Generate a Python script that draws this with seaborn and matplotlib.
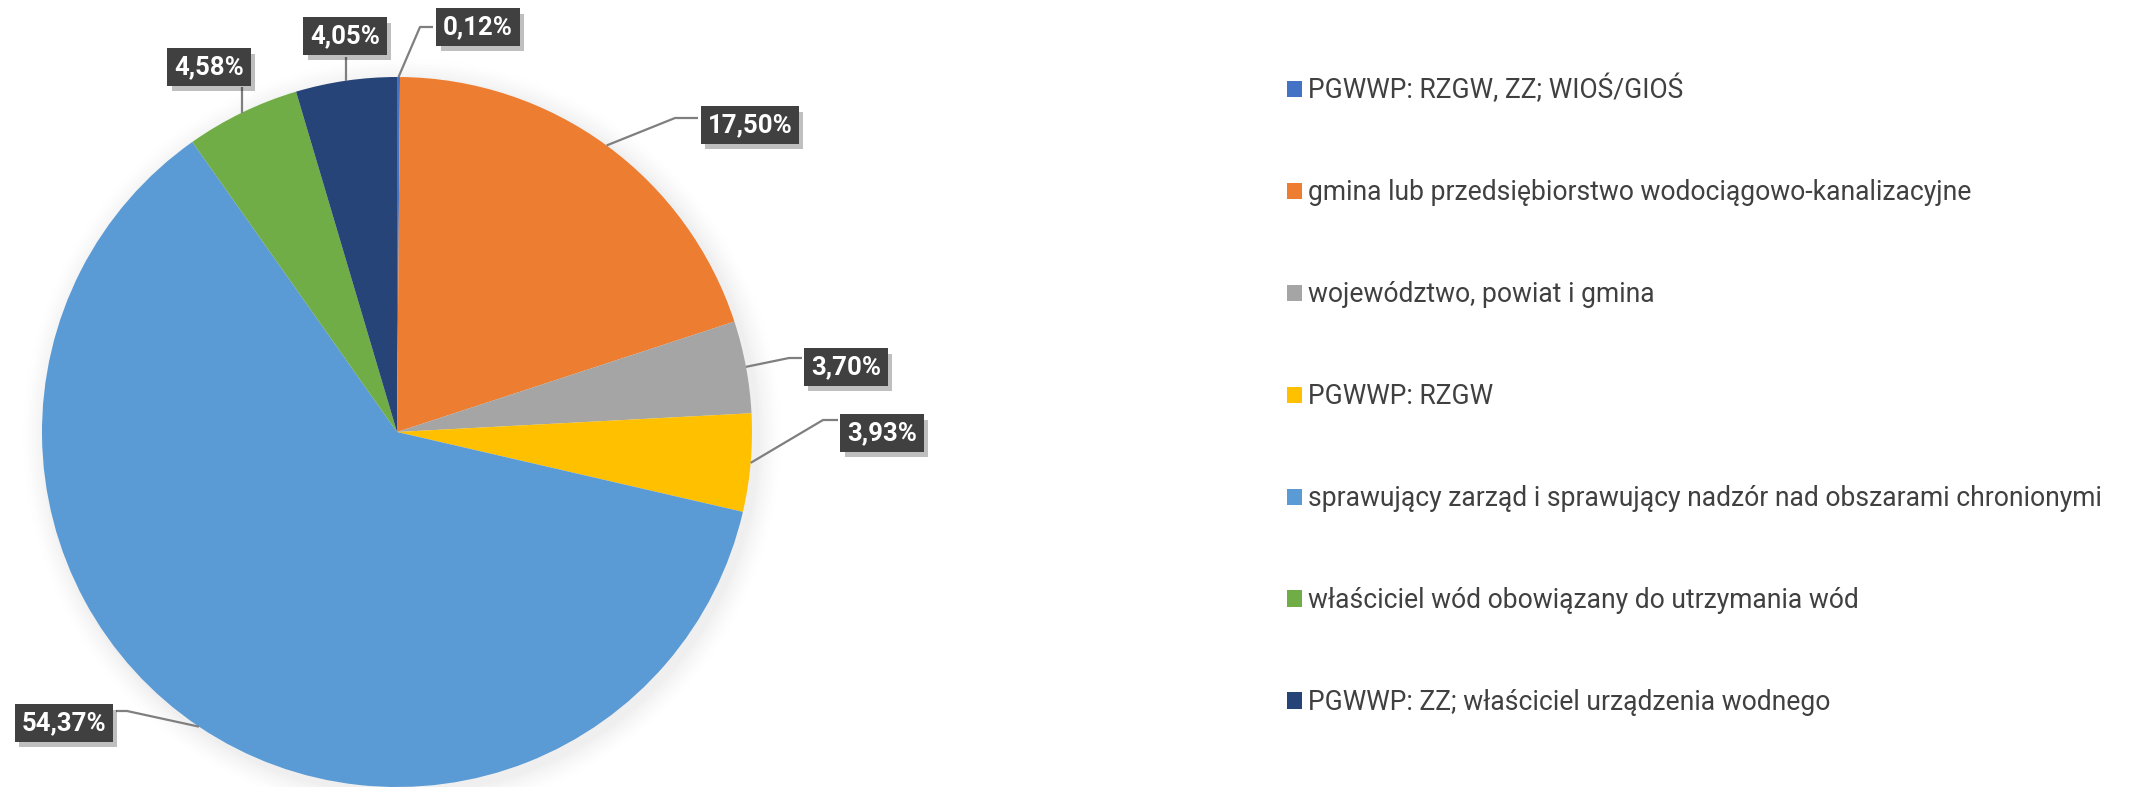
import matplotlib
matplotlib.use("Agg")
import matplotlib.pyplot as plt
import matplotlib.patheffects as pe
import numpy as np
import seaborn as sns

# ---- data ----
categories = [
    "PGWWP: RZGW, ZZ; WIOŚ/GIOŚ",
    "gmina lub przedsiębiorstwo wodociągowo-kanalizacyjne",
    "województwo, powiat i gmina",
    "PGWWP: RZGW",
    "sprawujący zarząd i sprawujący nadzór nad obszarami chronionymi",
    "właściciel wód obowiązany do utrzymania wód",
    "PGWWP: ZZ; właściciel urządzenia wodnego",
]
values = [0.12, 17.50, 3.70, 3.93, 54.37, 4.58, 4.05]
value_labels = ["0,12%", "17,50%", "3,70%", "3,93%", "54,37%", "4,58%", "4,05%"]
colors = ["#4472C4", "#ED7D31", "#A5A5A5", "#FFC000", "#5B9BD5", "#70AD47", "#264478"]

# ---- layout (pixel coords, y measured from top) ----
W, H = 2130, 787
CX, CY, R = 397, 432, 355
label_centers = [(478, 27), (750, 125), (846, 367), (882, 433), (64, 723), (209, 67), (345, 36)]
elbows = [(420, 27), (675, 118), (789, 358), (823, 420), (127, 711), None, None]
attaches = [(433, 27), (698, 118), (802, 358), (838, 420), (116, 711), (242, 87), (346, 57)]

sns.set_theme(style="white")
plt.rcParams["font.family"] = ["Roboto", "DejaVu Sans"]

fig = plt.figure(figsize=(W / 100, H / 100), dpi=100)
ax = fig.add_axes([0, 0, 1, 1])
pal = sns.color_palette(colors)

def py(y):
    return H - y

# soft shadow under pie
for i, a in enumerate(np.linspace(0.012, 0.004, 8)):
    ax.add_patch(plt.Circle((CX + 5, py(CY) - 5), R + 3 + i * 3, color="black",
                            alpha=a, lw=0, zorder=0))

wedges, _ = ax.pie(values, colors=pal, startangle=90, counterclock=False,
                   center=(CX, py(CY)), radius=R, frame=False,
                   wedgeprops=dict(linewidth=0))
for w in wedges:
    w.set_zorder(2)

ax.set_xlim(0, W)
ax.set_ylim(0, H)
ax.set_aspect("auto")
ax.axis("off")

for w, lab, c, el, at in zip(wedges, value_labels, label_centers, elbows, attaches):
    mid = np.deg2rad((w.theta1 + w.theta2) / 2)
    ax_ = CX + R * np.cos(mid)
    ay_ = py(CY) + R * np.sin(mid)
    if el is None:
        xs = [at[0], at[0]]
        ys = [ay_, py(at[1])]
    else:
        xs = [ax_, el[0], at[0]]
        ys = [ay_, py(el[1]), py(at[1])]
    ax.plot(xs, ys, color="#7F7F7F", lw=1.6, zorder=3, solid_capstyle="butt")
    t = ax.text(c[0], py(c[1]), lab, ha="center", va="center", color="white",
                fontsize=18.5, fontweight="bold", zorder=5,
                bbox=dict(boxstyle="square,pad=0.26", fc="#404040", ec="none"))
    t.get_bbox_patch().set_path_effects(
        [pe.SimplePatchShadow(offset=(3, -4), shadow_rgbFace="black", alpha=0.25),
         pe.Normal()])

fs = 19.1
fs_px = fs * 100 / 72
leg = ax.legend(wedges, categories, loc="upper left",
                bbox_to_anchor=(1287 / W, 1 - 74.8 / H), frameon=False,
                fontsize=fs, labelcolor="#404040", handlelength=15 / fs_px,
                handleheight=15 / fs_px, handletextpad=6 / fs_px, labelspacing=2.825,
                borderpad=0, borderaxespad=0)

fig.savefig("out.png", dpi=100, facecolor="white")
